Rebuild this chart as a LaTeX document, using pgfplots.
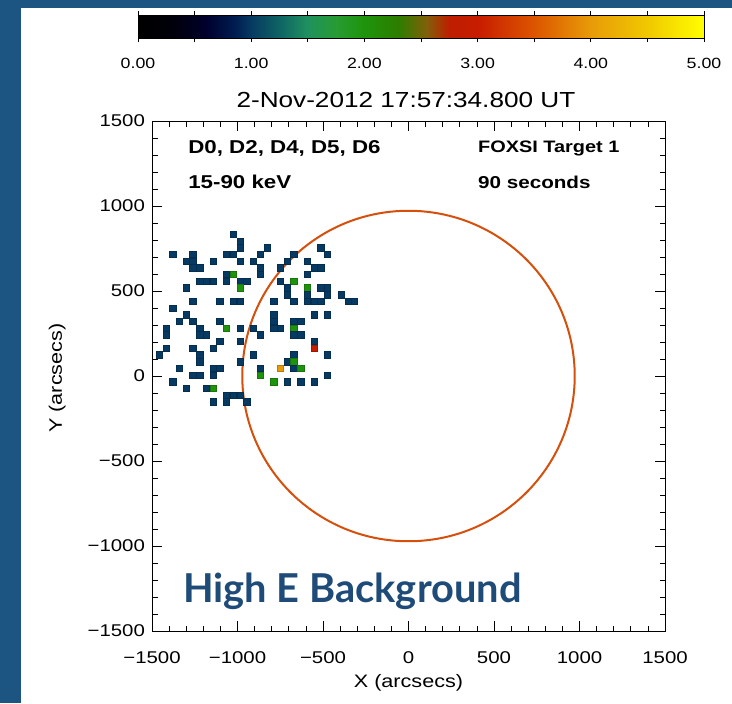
\documentclass[border=0pt]{standalone}
\usepackage{pgfplots}
\pgfplotsset{compat=1.18}
\usepackage{fontspec}
\setmainfont{Liberation Sans}
\newfontfamily\idl[FakeStretch=1.2]{Liberation Sans}
\newfontfamily\lato{Lato}
\definecolor{band}{RGB}{28,84,130}
\definecolor{hiE}{RGB}{30,75,120}
\definecolor{limb}{RGB}{212,80,12}

% counts per map pixel (arcsec), 1 = navy, 2 = green, 3 = red, 4 = orange
\pgfplotstableread{
x y c
-1024 833 1
-985 794 1
-985 754 1
-827 754 1
-512 754 1
-1379 715 1
-1261 715 1
-1064 715 1
-1024 715 1
-867 715 1
-670 715 1
-473 715 1
-1300 675 1
-1261 675 1
-1142 675 1
-985 675 1
-906 675 1
-709 675 1
-591 675 1
-1261 636 1
-1221 636 1
-867 636 1
-748 636 1
-551 636 1
-512 636 1
-1064 597 1
-1024 597 2
-867 597 1
-591 597 1
-1221 557 1
-1182 557 1
-1142 557 1
-1064 557 1
-985 557 1
-945 557 1
-748 557 1
-670 557 2
-1300 518 1
-985 518 2
-709 518 1
-591 518 2
-512 518 1
-473 518 1
-709 478 1
-591 478 1
-473 478 1
-394 478 1
-1261 439 1
-1103 439 1
-1024 439 1
-985 439 1
-788 439 1
-670 439 1
-591 439 1
-551 439 1
-512 439 1
-354 439 1
-315 439 1
-1379 400 1
-1300 360 1
-788 360 1
-551 360 1
-473 360 1
-1339 321 1
-1261 321 1
-1103 321 1
-788 321 1
-670 321 1
-630 321 1
-1418 281 1
-1221 281 1
-1064 281 2
-985 281 1
-906 281 1
-788 281 1
-748 281 1
-670 281 2
-1418 242 1
-1221 242 1
-1182 242 1
-867 242 1
-670 242 1
-630 242 1
-1103 203 1
-985 203 1
-551 203 1
-1418 163 1
-1261 163 1
-1142 163 1
-551 163 3
-1458 124 1
-1221 124 1
-906 124 1
-670 124 1
-473 124 1
-1221 84 1
-985 84 1
-709 84 1
-670 84 2
-1339 45 1
-1142 45 1
-1103 45 1
-867 45 1
-748 45 4
-670 45 1
-630 45 2
-1261 6 1
-1221 6 1
-1142 6 1
-867 6 2
-473 6 1
-1379 -34 1
-788 -34 2
-709 -34 1
-630 -34 1
-551 -34 1
-1300 -73 1
-1182 -73 1
-1142 -73 2
-1064 -113 1
-1024 -113 1
-985 -113 1
-1142 -152 1
-1064 -152 1
-945 -152 1
}\counts

\begin{document}
\begin{tikzpicture}
% 0.5pt per pixel, origin at the lower left corner of the map
\fill[white] (-76pt,-36pt) rectangle (290pt,315.5pt);
\fill[band] (-76pt,-36pt) rectangle (-65.5pt,315.5pt);
\fill[band] (-76pt,311.5pt) rectangle (290pt,315.5pt);
\begin{axis}[
  at={(0,0)}, anchor=south west,
  width=256.5pt, height=255pt, scale only axis,
  xmin=-1500, xmax=1500, ymin=-1500, ymax=1500,
  xtick={-1500,-1000,...,1500}, ytick={-1500,-1000,...,1500},
  xticklabels={−1500,−1000,−500,0,500,1000,1500},
  yticklabels={−1500,−1000,−500,0,500,1000,1500},
  minor tick num=4,
  tick align=inside,
  major tick length=5pt, minor tick length=2.75pt,
  axis line style={line width=0.5pt},
  tick style={line width=0.4pt, black},
  tick label style={font=\idl\fontsize{8.5}{10}\selectfont},
  xticklabel style={yshift=-7pt},
  xlabel={X (arcsecs)},
  xlabel style={at={(0.5,-0.102)}, anchor=center, font=\idl\fontsize{9}{10}\selectfont},
  ylabel={Y (arcsecs)},
  ylabel style={at={(-0.185,0.496)}, anchor=center, font=\idl\fontsize{9}{10}\selectfont},
  title={2-Nov-2012 17:57:34.800 UT},
  title style={at={(0.495,1.018)}, anchor=center, font=\idl\fontsize{10.9}{12}\selectfont},
  colormap={idl}{
    rgb255(0cm)=(0,0,0)
    rgb255(0.3cm)=(0,0,10)
    rgb255(0.6cm)=(0,0,45)
    rgb255(0.85cm)=(0,28,80)
    rgb255(1cm)=(6,58,98)
    rgb255(1.25cm)=(15,100,100)
    rgb255(1.5cm)=(32,145,95)
    rgb255(1.75cm)=(40,155,50)
    rgb255(2cm)=(30,148,12)
    rgb255(2.3cm)=(45,125,0)
    rgb255(2.55cm)=(130,95,10)
    rgb255(2.75cm)=(190,30,0)
    rgb255(3cm)=(200,28,0)
    rgb255(3.5cm)=(220,85,0)
    rgb255(4cm)=(232,155,8)
    rgb255(4.5cm)=(240,200,0)
    rgb255(5cm)=(255,255,0)
  },
  point meta min=0, point meta max=5,
  colorbar horizontal,
  colorbar style={
    at={(parent axis.north west)}, anchor=south west,
    xshift=-7pt, yshift=50pt,
    width=283pt, height=11.5pt, scale only axis,
    xtick={0,1,2,3,4,5}, minor x tick num=1,
    xticklabels={0.00,1.00,2.00,3.00,4.00,5.00},
    tick align=outside, xtick pos=both, xticklabel pos=lower,
    major tick length=2pt, minor tick length=2pt,
    tick style={line width=0.4pt, black},
    axis line style={line width=0.5pt},
    xticklabel style={font=\idl\fontsize{7.4}{8}\selectfont, yshift=-4.5pt},
  },
]
\addplot[scatter, only marks, mark=square*, mark size=1.58pt,
  mark options={line width=0.3pt}, scatter src=explicit]
  table[x=x, y=y, meta=c] {\counts};
\draw[limb, line width=1pt] (axis cs:0,0) ellipse [x radius=972, y radius=972];
\node[anchor=west, inner sep=0, font=\idl\bfseries\fontsize{9.3}{10}\selectfont]
  at (axis description cs:0.070,0.947) {D0, D2, D4, D5, D6};
\node[anchor=west, inner sep=0, font=\idl\bfseries\fontsize{9.3}{10}\selectfont]
  at (axis description cs:0.070,0.880) {15-90 keV};
\node[anchor=west, inner sep=0, font=\idl\bfseries\fontsize{8.3}{10}\selectfont]
  at (axis description cs:0.635,0.947) {FOXSI Target 1};
\node[anchor=west, inner sep=0, font=\idl\bfseries\fontsize{8.6}{10}\selectfont]
  at (axis description cs:0.635,0.880) {90 seconds};
\node[anchor=base west, inner sep=0, text=hiE, font=\lato\bfseries\fontsize{19.9}{22}\selectfont]
  at (axis description cs:0.060,0.055) {High E Background};
\end{axis}
\pgfresetboundingbox
\useasboundingbox (-76pt,-36pt) rectangle (290pt,315.5pt);
\end{tikzpicture}
\end{document}
